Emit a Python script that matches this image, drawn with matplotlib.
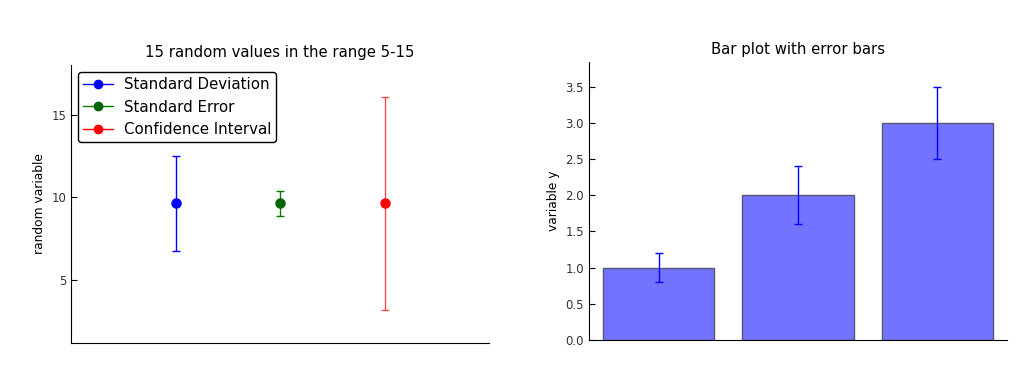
import numpy as np
import matplotlib.pyplot as plt
from matplotlib.lines import Line2D

# left panel: one mean with three kinds of error
err_labels = ["Standard Deviation", "Standard Error", "Confidence Interval"]
err_colors = ["blue", "green", "red"]
err_x = [1, 2, 3]
err_mean = [9.65, 9.65, 9.65]
err_size = [2.88, 0.75, 6.43]

# right panel: bars
bar_x = [0.5, 1.5, 2.5]
bar_y = [1.0, 2.0, 3.0]
bar_err = [0.2, 0.4, 0.5]


def style_axes(ax):
    ax.spines["top"].set_visible(False)
    ax.spines["right"].set_visible(False)
    ax.tick_params(axis="y", direction="in", length=4, labelsize=8.5,
                   labelcolor="#333333", right=False)
    ax.set_xticks([])


fig = plt.figure(figsize=(10.22, 3.72), dpi=100)

ax1 = fig.add_axes([71 / 1022, 1 - 343 / 372, 418 / 1022, 278 / 372])
for x, m, e, c in zip(err_x, err_mean, err_size, err_colors):
    ax1.errorbar(x, m, yerr=e, fmt="none", ecolor=c, elinewidth=1,
                 capsize=3, alpha=0.7 if c == "red" else 1.0)
    ax1.plot(x, m, "o", color=c if c != "green" else "darkgreen", markersize=6.5)
ax1.set_xlim(0, 4)
ax1.set_ylim(1.2, 18.0)
ax1.set_yticks([5, 10, 15])
ax1.set_ylabel("random variable", fontsize=8.8)
ax1.set_title("15 random values in the range 5-15", fontsize=10.7)
style_axes(ax1)
handles = [Line2D([0], [0], color=c, marker="o", markersize=6, linewidth=1,
                  markerfacecolor=c if c != "green" else "darkgreen",
                  markeredgecolor=c if c != "green" else "darkgreen")
           for c in err_colors]
leg = ax1.legend(handles, err_labels, loc="upper left", fontsize=10.8,
                 frameon=True, edgecolor="black", fancybox=True,
                 handlelength=2.0, handletextpad=0.7, borderaxespad=0.45,
                 labelspacing=0.5, borderpad=0.35)
leg.get_frame().set_linewidth(1.0)
leg.get_frame().set_alpha(1.0)

ax2 = fig.add_axes([589 / 1022, 1 - 340 / 372, 418 / 1022, 278 / 372])
ax2.bar(bar_x, bar_y, width=0.8, color=(0.45, 0.45, 1.0),
        edgecolor="#555577", linewidth=1)
ax2.errorbar(bar_x, bar_y, yerr=bar_err, fmt="none", ecolor="blue",
             elinewidth=1, capsize=3)
ax2.set_xlim(0, 3)
ax2.set_ylim(0, 3.84)
ax2.set_yticks(np.arange(0, 3.6, 0.5))
ax2.set_ylabel("variable y", fontsize=8.8)
ax2.set_title("Bar plot with error bars", fontsize=10.7)
style_axes(ax2)

fig.savefig("out.png", dpi=100)
